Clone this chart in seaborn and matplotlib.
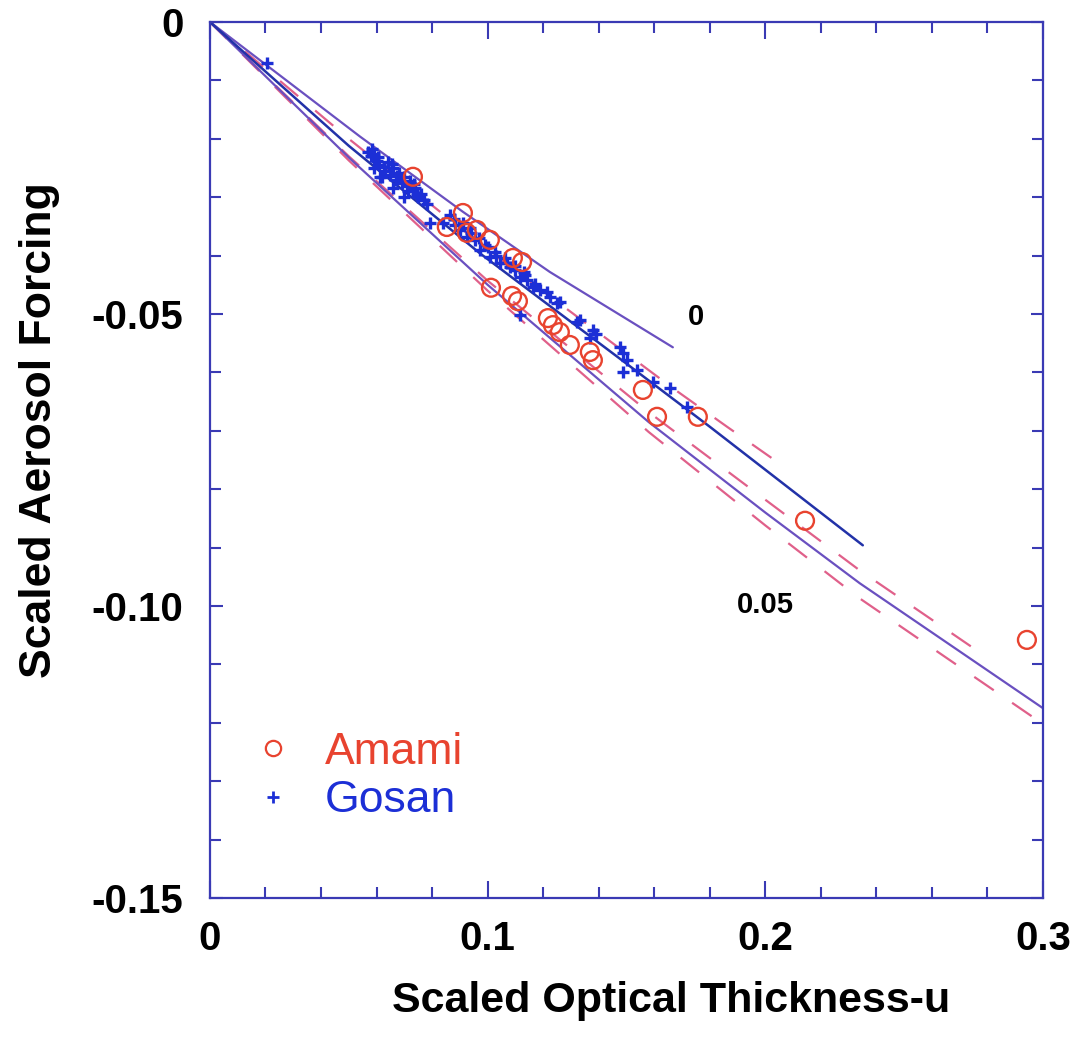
import matplotlib
matplotlib.use("Agg")
import matplotlib.pyplot as plt
import seaborn as sns
import pandas as pd
from matplotlib.ticker import FixedLocator, FixedFormatter, MultipleLocator
from matplotlib.lines import Line2D

# ---------------- data ----------------
amami_x = [0.0731, 0.0853, 0.0911, 0.0925, 0.0961, 0.1008, 0.1091, 0.1124, 0.1012, 0.1088, 0.1109,
           0.1217, 0.1235, 0.1260, 0.1296, 0.1368, 0.1379, 0.1559, 0.1610, 0.1757, 0.2143, 0.2942]
amami_y = [-0.0265, -0.0351, -0.0327, -0.0361, -0.0356, -0.0373, -0.0404, -0.0411, -0.0455, -0.0469, -0.0478,
           -0.0507, -0.0519, -0.0531, -0.0553, -0.0565, -0.0579, -0.0630, -0.0676, -0.0676, -0.0854, -0.1058]

gosan_x = [0.0205,
           0.057, 0.058, 0.059, 0.060, 0.061, 0.059, 0.063, 0.064, 0.065, 0.066, 0.067, 0.068, 0.069,
           0.070, 0.071, 0.072, 0.073, 0.074, 0.075, 0.076, 0.077, 0.078, 0.066, 0.070, 0.062, 0.0612, 0.0792,
           0.0585, 0.0605, 0.0625, 0.0655, 0.0675, 0.0715, 0.0735, 0.0745,
           0.0839, 0.0864, 0.0882, 0.0900, 0.0925, 0.0936, 0.0954, 0.0972, 0.0990, 0.1008, 0.1026, 0.1044,
           0.1062, 0.1080, 0.1098, 0.1116, 0.1134, 0.1142, 0.1163, 0.1188, 0.1214, 0.1224, 0.1250, 0.1260, 0.1116,
           0.088, 0.091, 0.094, 0.097, 0.100, 0.103, 0.107, 0.110, 0.113, 0.117,
           0.1322, 0.1332, 0.1379, 0.1390, 0.1368, 0.1476, 0.1487, 0.1502, 0.1487, 0.1538, 0.1595, 0.1656, 0.1718]
gosan_y = [-0.0071,
           -0.0222, -0.0230, -0.0226, -0.0238, -0.0245, -0.0250, -0.0255, -0.0240, -0.0262, -0.0250, -0.0270, -0.0258, -0.0275,
           -0.0265, -0.0280, -0.0272, -0.0290, -0.0285, -0.0300, -0.0295, -0.0305, -0.0312, -0.0285, -0.0300, -0.0265, -0.0265, -0.0344,
           -0.0218, -0.0232, -0.0248, -0.0243, -0.0263, -0.0290, -0.0278, -0.0296,
           -0.0344, -0.0330, -0.0348, -0.0356, -0.0368, -0.0353, -0.0373, -0.0390, -0.0382, -0.0402, -0.0394, -0.0413,
           -0.0404, -0.0420, -0.0425, -0.0437, -0.0433, -0.0442, -0.0454, -0.0459, -0.0462, -0.0471, -0.0481, -0.0479, -0.0502,
           -0.0338, -0.0345, -0.0362, -0.0370, -0.0385, -0.0400, -0.0412, -0.0418, -0.0428, -0.0448,
           -0.0514, -0.0510, -0.0527, -0.0534, -0.0541, -0.0557, -0.0567, -0.0579, -0.0599, -0.0596, -0.0616, -0.0627, -0.0659]

# model curves
curve0_x = [0.0, 0.054, 0.0911, 0.1224, 0.1667]
curve0_y = [0.0, -0.0196, -0.0325, -0.0428, -0.0557]
blue_x = [0.0, 0.05, 0.0972, 0.15, 0.18, 0.2351]
blue_y = [0.0, -0.0212, -0.0396, -0.0585, -0.0693, -0.0896]
curve05_x = [0.0, 0.05, 0.1, 0.158, 0.2, 0.234, 0.3]
curve05_y = [0.0, -0.0232, -0.0450, -0.0685, -0.0840, -0.0961, -0.1175]
dash_low_x = [0.0, 0.05, 0.1, 0.158, 0.2, 0.234, 0.3]
dash_low_y = [0.0, -0.0237, -0.0460, -0.0702, -0.0862, -0.0987, -0.1202]
dash_up_x = [0.0, 0.05, 0.1, 0.158, 0.2, 0.234, 0.274]
dash_up_y = [0.0, -0.0230, -0.0443, -0.0668, -0.0818, -0.0939, -0.1069]
dash_top_x = [0.0, 0.05, 0.1, 0.1667, 0.1862, 0.2042]
dash_top_y = [0.0, -0.0200, -0.0390, -0.0627, -0.0693, -0.0753]

x_ticks = [0.0, 0.1, 0.2, 0.3]
x_ticklabels = ["0", "0.1", "0.2", "0.3"]
y_ticks = [0.0, -0.05, -0.10, -0.15]
y_ticklabels = ["0", "-0.05", "-0.10", "-0.15"]
legend_labels = ["Amami", "Gosan"]

# ---------------- styling ----------------
sns.set_theme(style="ticks")
plt.rcParams['font.family'] = ['Liberation Sans', 'DejaVu Sans']
plt.rcParams['lines.scale_dashes'] = False

SPINE = "#3a3ab4"
PURPLE = "#6a50c0"
BLUE_LINE = "#2232a8"
PINK = "#e0608a"
RED = "#e8432f"
BLUE_PT = "#1c2fd6"

fig = plt.figure(figsize=(10.85, 10.43), dpi=100)
ax = fig.add_axes([0.1935, 0.139, 0.9613 - 0.1935, 0.9789 - 0.139])

dash = (0, (17, 16))
sns.lineplot(x=dash_low_x, y=dash_low_y, ax=ax, color=PINK, lw=1.6, linestyle=dash, sort=False, estimator=None)
sns.lineplot(x=dash_up_x, y=dash_up_y, ax=ax, color=PINK, lw=1.6, linestyle=dash, sort=False, estimator=None)
sns.lineplot(x=dash_top_x, y=dash_top_y, ax=ax, color=PINK, lw=1.6, linestyle=dash, sort=False, estimator=None)
sns.lineplot(x=curve0_x, y=curve0_y, ax=ax, color=PURPLE, lw=1.6, sort=False, estimator=None)
sns.lineplot(x=curve05_x, y=curve05_y, ax=ax, color=PURPLE, lw=1.6, sort=False, estimator=None)
sns.lineplot(x=blue_x, y=blue_y, ax=ax, color=BLUE_LINE, lw=1.8, sort=False, estimator=None)

sns.scatterplot(x=gosan_x, y=gosan_y, ax=ax, marker="+", s=70, color=BLUE_PT, linewidth=2.4, zorder=3)
sns.scatterplot(x=amami_x, y=amami_y, ax=ax, marker="o", s=165, facecolors="none", edgecolor=RED,
                linewidth=1.7, zorder=4)

ax.set_xlim(0, 0.3)
ax.set_ylim(-0.15, 0)

ax.xaxis.set_major_locator(FixedLocator(x_ticks))
ax.xaxis.set_major_formatter(FixedFormatter(x_ticklabels))
ax.xaxis.set_minor_locator(MultipleLocator(0.02))
ax.yaxis.set_major_locator(FixedLocator(y_ticks))
ax.yaxis.set_major_formatter(FixedFormatter(y_ticklabels))
ax.yaxis.set_minor_locator(MultipleLocator(0.01))

for s in ax.spines.values():
    s.set_visible(True)
    s.set_color(SPINE)
    s.set_linewidth(1.6)

ax.tick_params(which="both", direction="in", top=True, right=True, color=SPINE, width=1.5)
ax.tick_params(which="major", length=12)
ax.tick_params(which="minor", length=8)
ax.tick_params(axis="y", which="major", length=9)
ax.tick_params(axis="x", which="major", pad=16, labelsize=29)
ax.tick_params(axis="y", which="major", pad=19, labelsize=29)
for lab in ax.get_xticklabels() + ax.get_yticklabels():
    lab.set_fontweight("bold")
    lab.set_color("black")

ax.set_xlabel("Scaled Optical Thickness-u", fontsize=31, fontweight="bold", color="black")
ax.set_ylabel("Scaled Aerosol Forcing", fontsize=32, fontweight="bold", color="black")
ax.xaxis.set_label_coords(0.553, -0.095)
ax.yaxis.set_label_coords(-0.180, 0.534)

ax.text(0.175, -0.0505, "0", fontsize=21, fontweight="bold", ha="center", va="center", color="black")
ax.text(0.200, -0.0998, "0.05", fontsize=21, fontweight="bold", ha="center", va="center", color="black")

handles = [Line2D([], [], marker="o", ls="none", markersize=11, markerfacecolor="none",
                  markeredgecolor=RED, markeredgewidth=1.6),
           Line2D([], [], marker="+", ls="none", markersize=8, color=BLUE_PT, markeredgewidth=2.0)]
leg = ax.legend(handles, legend_labels, loc="upper left", bbox_to_anchor=(0.054, 0.190),
                frameon=False, fontsize=32, handlelength=0.8, handletextpad=0.78,
                labelspacing=0.17, borderpad=0, borderaxespad=0,
                labelcolor=[RED, BLUE_PT])

fig.savefig("out.png", dpi=100)
